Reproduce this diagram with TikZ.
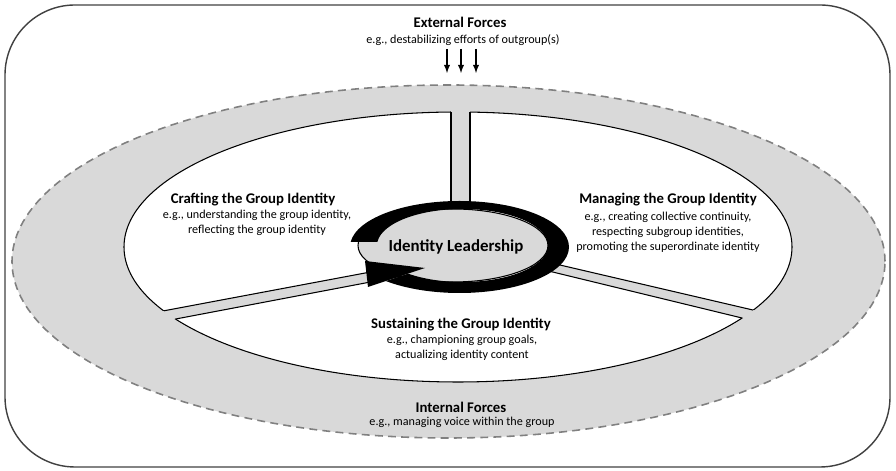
\documentclass[tikz,border=0pt]{standalone}
\usepackage{fontspec}
\setmainfont{Carlito}
\usetikzlibrary{arrows}
\definecolor{fillgray}{HTML}{D9D9D9}
\definecolor{dashgray}{HTML}{808080}
\definecolor{framegray}{HTML}{404040}
\tikzset{
    head/.style={font=\fontsize{8.4}{10}\selectfont\bfseries, inner sep=0pt},
    sub/.style={font=\fontsize{6.9}{8.5}\selectfont, align=center, inner sep=0pt},
    spoke/.style={line width=.6pt}
}

\begin{document}
\begin{tikzpicture}
        \useasboundingbox (0,0) rectangle (17.92,9.42);
        \draw[framegray, line width=.8pt, rounded corners=1.4cm] (.1,.08) rectangle (17.8,9.32);
        % forces ring
        \draw[dashgray, fill=fillgray, line width=.9pt, dash pattern=on 4.5pt off 3pt] (8.97,4.19) ellipse (8.73 and 3.53);
        % the three parts of the group identity
        \draw[fill=white, line width=.6pt] (9.16,4.48) ellipse (6.68 and 2.70);
        \begin{scope}
            \clip (9.16,4.48) ellipse (6.72 and 2.74);
            \fill[fillgray] (9.02,4.5) rectangle (9.40,7.5);
            \fill[fillgray] (2.80,3.114) -- (9.20,4.316) -- (9.20,4.12) -- (2.80,2.904) -- cycle;
            \fill[fillgray] (9.20,4.586) -- (16.0,3.00) -- (16.0,2.778) -- (9.20,4.43) -- cycle;
        \end{scope}
        \begin{scope}
            \clip (9.16,4.48) ellipse (6.68 and 2.70);
            \draw[spoke] (9.02,4.5) -- (9.02,7.5) (9.40,4.5) -- (9.40,7.5);
            \draw[spoke] (2.80,3.114) -- (9.20,4.316) (9.20,4.12) -- (2.80,2.904);
            \draw[spoke] (9.20,4.586) -- (16.0,3.00) (16.0,2.778) -- (9.20,4.43);
        \end{scope}
        % identity leadership cycle
        \draw[fill=fillgray, line width=.6pt] (9.06,4.51) ellipse (1.90 and .73);
        \begin{scope}
            \clip (10.06,4.58) -- (6.00,4.58) -- (6.00,7.82) -- (12.80,7.82) -- (12.80,1.02) -- (6.00,1.02) -- (6.00,3.226) -- cycle;
            \fill[even odd rule] (9.19,4.48) ellipse (2.19 and .92) (9.25,4.51) ellipse (1.71 and .73);
        \end{scope}
        \fill (7.30,4.20) -- (7.36,3.68) -- (8.50,4.06) -- cycle;
        \node[font=\fontsize{9.6}{11}\selectfont\bfseries] (lead) at (9.12,4.48) {Identity Leadership};

        \node[head] (ext) at (9.20,8.98) {External Forces};
        \node[sub] (extsub) at (9.26,8.62) {e.g., destabilizing efforts of outgroup(s)};
        \foreach \x[count=\i] in {8.94, 9.22, 9.52} {
            \coordinate (f\i) at (\x,8.44);
            \coordinate (g\i) at (\x,7.96);
            \draw[-latex, line width=.6pt] (f\i) -- (g\i);
        }
        \node[head] (craft) at (5.06,5.42) {Crafting the Group Identity};
        \node[sub] (craftsub) at (5.14,4.96) {e.g., understanding the group identity,\\reflecting the group identity};
        \node[head] (manage) at (13.36,5.42) {Managing the Group Identity};
        \node[sub] (managesub) at (13.36,4.78) {e.g., creating collective continuity,\\respecting subgroup identities,\\promoting the superordinate identity};
        \node[head] (sustain) at (9.22,2.92) {Sustaining the Group Identity};
        \node[sub] (sustainsub) at (9.24,2.46) {e.g., championing group goals,\\actualizing identity content};
        \node[head] (int) at (9.22,1.28) {Internal Forces};
        \node[sub] (intsub) at (9.24,0.98) {e.g., managing voice within the group};
    \end{tikzpicture}
\end{document}
